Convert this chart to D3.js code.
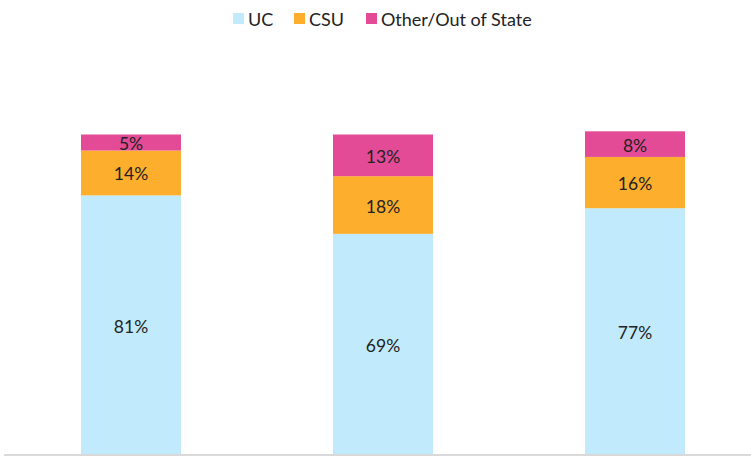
<!DOCTYPE html>
<html><head><meta charset="utf-8">
<script src="https://cdn.jsdelivr.net/npm/d3@7"></script>
<style>body{margin:0;background:#fff}svg{display:block}text{font-family:Lato,"Open Sans",sans-serif;fill:#222}</style>
</head><body>
<svg id="c" width="751" height="460"></svg>
<script>
const categories = ["Group 1", "Group 2", "Group 3"];
const seriesNames = ["UC", "CSU", "Other/Out of State"];
const uc = [81, 69, 77];
const csu = [14, 18, 16];
const other = [5, 13, 8];
const colors = ["#C1EBFD", "#FDAE2D", "#E34B96"];

const svg = d3.select("#c");
const x = d3.scaleBand().domain(categories).range([5, 761]).paddingInner(0.6032).paddingOuter(0.3016);
const y = d3.scaleLinear().domain([0, 100]).range([455, 134.5]);

const rows = categories.map((c, i) => ({cat: c, UC: uc[i], CSU: csu[i], "Other/Out of State": other[i]}));
const stack = d3.stack().keys(seriesNames)(rows);

const g = svg.append("g");
stack.forEach((s, si) => {
  g.selectAll(null).data(s).enter().append("rect")
    .attr("x", d => x(d.data.cat))
    .attr("width", x.bandwidth())
    .attr("y", d => y(d[1]))
    .attr("height", d => y(d[0]) - y(d[1]))
    .attr("fill", colors[si]);
  g.selectAll(null).data(s).enter().append("text")
    .attr("x", d => x(d.data.cat) + x.bandwidth() / 2)
    .attr("y", d => (y(d[0]) + y(d[1])) / 2 + 1)
    .attr("text-anchor", "middle")
    .attr("dominant-baseline", "central")
    .attr("font-size", 17.5)
    .text(d => d.data[s.key] + "%");
});

// axis baseline
const xAxis = d3.axisBottom(x).tickSize(0).tickFormat("");
const ax = svg.append("g").attr("transform", "translate(0,455)").call(xAxis);
ax.select(".domain").attr("stroke", "#d9d9d9").attr("stroke-width", 2).attr("d", "M4,0H751");

// legend
const legendX = [233, 294, 366];
const lg = svg.append("g");
seriesNames.forEach((n, i) => {
  lg.append("rect").attr("x", legendX[i]).attr("y", 13).attr("width", 11).attr("height", 11).attr("fill", colors[i]);
  lg.append("text").attr("x", legendX[i] + 15).attr("y", 18.5).attr("dominant-baseline", "central")
    .attr("font-size", 18).text(n);
});
</script>
</body></html>
